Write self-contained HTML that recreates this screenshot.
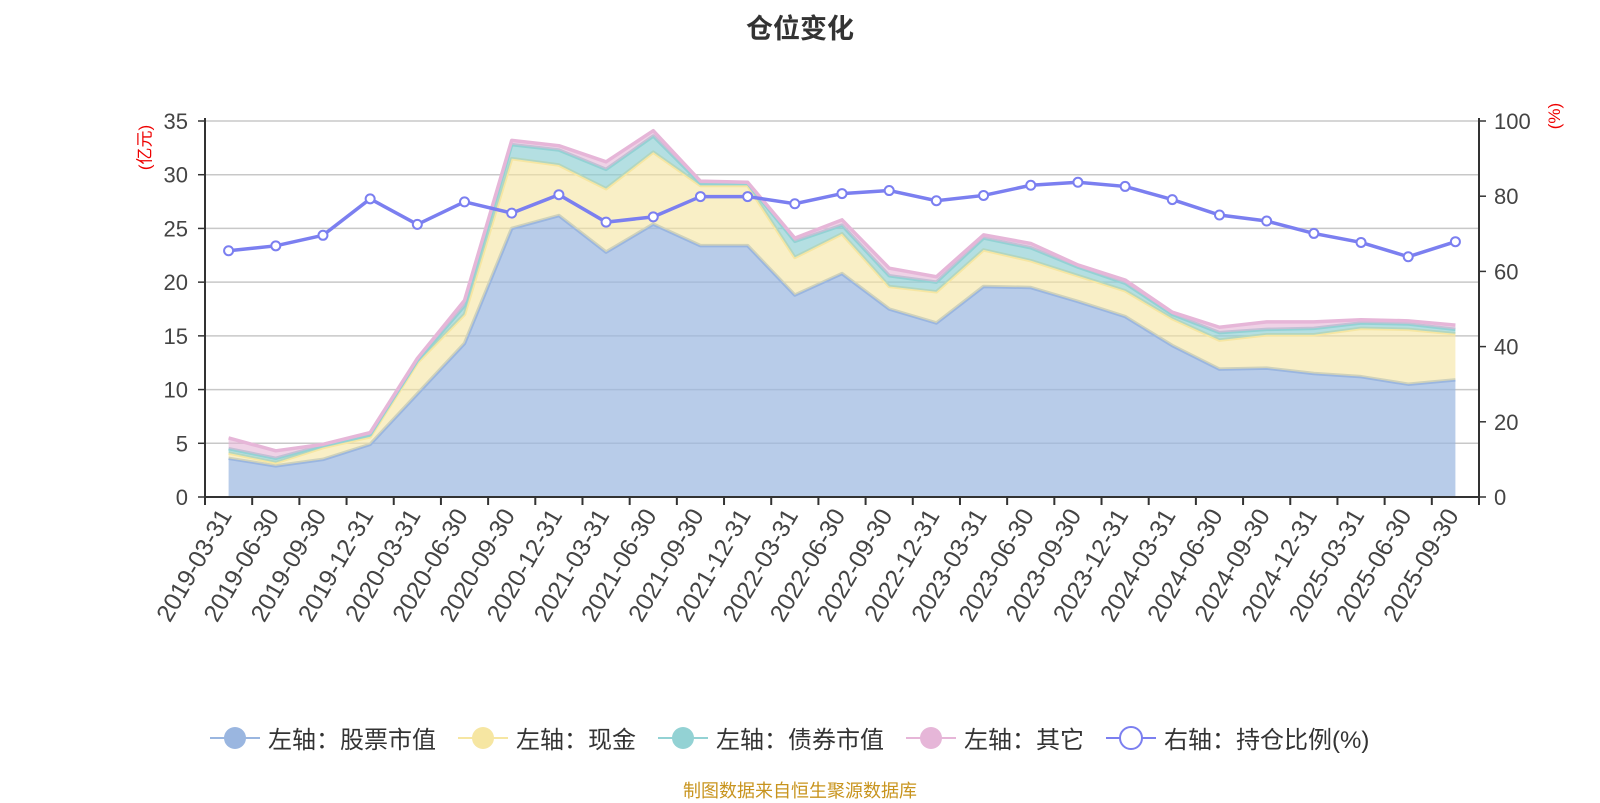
<!DOCTYPE html>
<html><head><meta charset="utf-8"><style>
html,body{margin:0;padding:0;background:#fff;}
svg{display:block;font-family:"Liberation Sans","Noto Sans CJK SC",sans-serif;}
</style></head><body>
<svg id="c" width="1600" height="800" xmlns="http://www.w3.org/2000/svg"></svg>
<script>
const categories=["2019-03-31","2019-06-30","2019-09-30","2019-12-31","2020-03-31","2020-06-30","2020-09-30","2020-12-31","2021-03-31","2021-06-30","2021-09-30","2021-12-31","2022-03-31","2022-06-30","2022-09-30","2022-12-31","2023-03-31","2023-06-30","2023-09-30","2023-12-31","2024-03-31","2024-06-30","2024-09-30","2024-12-31","2025-03-31","2025-06-30","2025-09-30"];
const stockValues=[3.6,2.9,3.5,4.9,9.6,14.3,25.0,26.2,22.8,25.4,23.4,23.4,18.8,20.8,17.5,16.2,19.6,19.5,18.2,16.8,14.1,11.9,12.0,11.5,11.2,10.5,10.9];
const cashValues=[0.5,0.3,1.1,0.7,2.9,2.7,6.5,4.7,5.9,6.7,5.6,5.6,3.5,3.7,2.1,2.9,3.4,2.5,2.4,2.4,2.5,2.7,3.1,3.6,4.5,5.1,4.3];
const bondValues=[0.4,0.4,0.2,0.2,0.2,0.8,1.3,1.4,1.8,1.5,0.2,0.2,1.5,0.8,1.0,0.9,1.1,1.2,0.8,0.7,0.4,0.7,0.5,0.6,0.5,0.5,0.4];
const otherValues=[1.0,0.7,0.1,0.2,0.2,0.5,0.4,0.4,0.7,0.5,0.2,0.1,0.3,0.5,0.7,0.5,0.3,0.4,0.2,0.3,0.2,0.5,0.7,0.6,0.3,0.3,0.4];
const ratioValues=[65.5,66.8,69.6,79.3,72.5,78.5,75.5,80.4,73.1,74.5,79.9,79.9,78.0,80.7,81.5,78.8,80.2,82.9,83.7,82.6,79.1,75.0,73.4,70.1,67.7,63.9,67.9];
const leftTicks=[0,5,10,15,20,25,30,35];
const rightTicks=[0,20,40,60,80,100];

const NS="http://www.w3.org/2000/svg";
const svg=document.getElementById('c');
const X0=205,X1=1479,Y0=497,Y1=121;
const band=(X1-X0)/categories.length;
const xs=i=>X0+band*(i+0.5);
const yL=v=>Y0-(v/35)*(Y0-Y1);
const yR=v=>Y0-(v/100)*(Y0-Y1);
function mk(tag,attrs,parent){const e=document.createElementNS(NS,tag);for(const k in attrs)e.setAttribute(k,attrs[k]);(parent||svg).appendChild(e);return e;}

leftTicks.forEach(t=>{
  const g=mk('line',{x1:X0,x2:X1,y1:yL(t),y2:yL(t),stroke:'#c8c8c8','stroke-width':1.5});
  
  
  mk('line',{x1:X0-7,x2:X0,y1:yL(t),y2:yL(t),stroke:'#333','stroke-width':1.5});
  const tx=mk('text',{x:X0-17,y:yL(t)+8,'text-anchor':'end','font-size':22,fill:'#444'});
  tx.textContent=t;
  
  
});
rightTicks.forEach(t=>{
  mk('line',{x1:X1,x2:X1+7,y1:yR(t),y2:yR(t),stroke:'#333','stroke-width':1.5});
  const tx=mk('text',{x:X1+15,y:yR(t)+8,'font-size':22,fill:'#444'});
  tx.textContent=t;
  
  
});

const series=[
 {name:'stock',vals:stockValues,fill:'rgba(154,182,224,0.7)',stroke:'#9ab6e0'},
 {name:'cash',vals:cashValues,fill:'rgba(245,228,160,0.6)',stroke:'#f6e6a2'},
 {name:'bond',vals:bondValues,fill:'rgba(140,206,210,0.65)',stroke:'#93d2d4'},
 {name:'other',vals:otherValues,fill:'rgba(228,180,214,0.6)',stroke:'#e6b6d8'}
];
let base=categories.map(()=>0);
series.forEach(s=>{
  const top=base.map((b,i)=>b+s.vals[i]);
  let d='M'+categories.map((c,i)=>xs(i)+','+yL(top[i])).join('L');
  for(let i=categories.length-1;i>=0;i--)d+='L'+xs(i)+','+yL(base[i]);
  const a=mk('path',{d:d+'Z',fill:s.fill});
  
  
  const l=mk('polyline',{points:categories.map((c,i)=>xs(i)+','+yL(top[i])).join(' '),fill:'none',stroke:s.stroke,'stroke-width':3.5,'stroke-linejoin':'round'});
  
  
  base=top;
});

mk('line',{x1:X0,x2:X0,y1:Y1-3,y2:Y0+8,stroke:'#333','stroke-width':2});
mk('line',{x1:X1,x2:X1,y1:Y1-3,y2:Y0+8,stroke:'#333','stroke-width':2});
mk('line',{x1:X0,x2:X1,y1:Y0,y2:Y0,stroke:'#333','stroke-width':2});
for(let i=0;i<=categories.length;i++){mk('line',{x1:X0+band*i,x2:X0+band*i,y1:Y0,y2:Y0+8,stroke:'#333','stroke-width':2});}
categories.forEach((c,i)=>{
  const x=xs(i)+4,y=Y0+18;
  const t=mk('text',{x:x,y:y,'text-anchor':'end','font-size':24.5,fill:'#444',transform:`rotate(-60 ${x} ${y})`});
  t.textContent=c;
  
  
});

const rl=mk('polyline',{points:categories.map((c,i)=>xs(i)+','+yR(ratioValues[i])).join(' '),fill:'none',stroke:'#7b7ff0','stroke-width':3.5});


ratioValues.forEach((v,i)=>{
  const p=mk('circle',{cx:xs(i),cy:yR(v),r:4.5,fill:'#fff',stroke:'#7b7ff0','stroke-width':2});
  
  
});
</script>
<div style="position:absolute;left:0;top:0;width:1600px;height:800px;pointer-events:none;font-family:'Liberation Sans','Noto Sans CJK SC',sans-serif;">
  <div style="position:absolute;left:0;width:1600px;top:7px;text-align:center;font-size:27px;font-weight:bold;color:#333;">仓位变化</div>
  <div style="position:absolute;left:118px;top:135px;width:50px;text-align:center;color:#e00;font-size:17px;transform:rotate(-90deg);white-space:nowrap;">(亿元)</div>
  <div style="position:absolute;left:1540px;top:106px;width:30px;text-align:center;color:#e00;font-size:17px;transform:rotate(-90deg);white-space:nowrap;">(%)</div>
  <div style="position:absolute;top:720px;left:210px;display:flex;align-items:center;font-size:24px;color:#333;white-space:nowrap;">
    <span style="display:flex;align-items:center;margin-right:22px;"><svg width="50" height="30"><line x1="0" y1="15" x2="50" y2="15" stroke="#9ab6e0" stroke-width="2"/><circle cx="25" cy="15" r="11" fill="#9ab6e0"/></svg><span style="margin-left:8px">左轴：股票市值</span></span>
    <span style="display:flex;align-items:center;margin-right:22px;"><svg width="50" height="30"><line x1="0" y1="15" x2="50" y2="15" stroke="#f6e6a2" stroke-width="2"/><circle cx="25" cy="15" r="11" fill="#f6e6a2"/></svg><span style="margin-left:8px">左轴：现金</span></span>
    <span style="display:flex;align-items:center;margin-right:22px;"><svg width="50" height="30"><line x1="0" y1="15" x2="50" y2="15" stroke="#93d2d4" stroke-width="2"/><circle cx="25" cy="15" r="11" fill="#93d2d4"/></svg><span style="margin-left:8px">左轴：债券市值</span></span>
    <span style="display:flex;align-items:center;margin-right:22px;"><svg width="50" height="30"><line x1="0" y1="15" x2="50" y2="15" stroke="#e6b6d8" stroke-width="2"/><circle cx="25" cy="15" r="11" fill="#e6b6d8"/></svg><span style="margin-left:8px">左轴：其它</span></span>
    <span style="display:flex;align-items:center;"><svg width="50" height="30"><line x1="0" y1="15" x2="50" y2="15" stroke="#7b7ff0" stroke-width="2"/><circle cx="25" cy="15" r="11" fill="#fff" stroke="#7b7ff0" stroke-width="2"/></svg><span style="margin-left:8px">右轴：持仓比例(%)</span></span>
  </div>
  <div style="position:absolute;left:0;width:1600px;top:777px;text-align:center;font-size:18px;color:#c8941e;">制图数据来自恒生聚源数据库</div>
</div>
</body></html>
